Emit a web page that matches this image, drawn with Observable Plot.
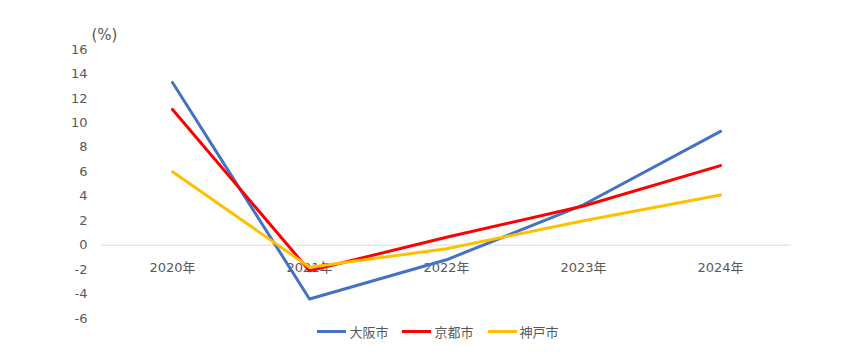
<!DOCTYPE html>
<html>
<head>
<meta charset="utf-8">
<script src="https://cdn.jsdelivr.net/npm/d3@7"></script>
<script src="https://cdn.jsdelivr.net/npm/@observablehq/plot@0.6"></script>
<style>
  body { margin: 0; background: #fff; font-family: "DejaVu Sans", "Noto Sans CJK JP", sans-serif; }
  #legend { display: flex; justify-content: center; align-items: center; height: 20px; margin-top: -9px; font-family: "Noto Sans CJK JP", sans-serif; font-size: 13px; color: #595959; padding-left: 14px; }
  .item { display: flex; align-items: center; margin: 0 7px; }
  .sw { width: 29px; height: 3px; margin-right: 3px; }
</style>
</head>
<body>
<div id="chart"></div>
<div id="legend"></div>
<script>
const years = ["2020年", "2021年", "2022年", "2023年", "2024年"];
const seriesNames = ["大阪市", "京都市", "神戸市"];
const osaka = [13.3, -4.4, -1.2, 3.3, 9.3];
const kyoto = [11.1, -2.1, 0.65, 3.2, 6.5];
const kobe = [6.0, -1.8, -0.3, 2.0, 4.1];
const yTicks = [-6, -4, -2, 0, 2, 4, 6, 8, 10, 12, 14, 16];
const colors = ["#4472C4", "#FF0000", "#FFC000"];

const seriesValues = [osaka, kyoto, kobe];
const rows = [];
seriesNames.forEach((s, i) => years.forEach((y, j) => rows.push({series: s, year: y, value: seriesValues[i][j]})));

const font = '"DejaVu Sans", "Noto Sans CJK JP", sans-serif';
const chart = Plot.plot({
  width: 862,
  height: 330,
  marginLeft: 101,
  marginRight: 72,
  marginTop: 49,
  marginBottom: 12,
  style: {fontFamily: font, fontSize: "13px", color: "#595959", background: "#fff", overflow: "visible"},
  x: {type: "point", domain: years, padding: 0.5, axis: null},
  y: {domain: [-6, 16]},
  color: {domain: seriesNames, range: colors},
  marks: [
    Plot.ruleY([0], {stroke: "#d9d9d9", strokeWidth: 1}),
    Plot.axisY({ticks: yTicks, tickSize: 0, tickPadding: 14, tickFormat: d => String(d), fontSize: 13, fill: "#595959", label: null}),
    Plot.text(years, {x: d => d, y: 0, dy: 23, fill: "#595959", fontSize: 13}),
    Plot.line(rows, {x: "year", y: "value", z: "series", stroke: "series", strokeWidth: 3, strokeLinejoin: "round", strokeLinecap: "round"}),
    Plot.text(["(%)"], {frameAnchor: "top-left", dx: -10, dy: -20, textAnchor: "start", fill: "#595959", fontSize: 15})
  ]
});
document.getElementById("chart").appendChild(chart);

const legend = document.getElementById("legend");
seriesNames.forEach((s, i) => {
  const it = document.createElement("div");
  it.className = "item";
  it.innerHTML = `<span class="sw" style="background:${colors[i]}"></span><span>${s}</span>`;
  legend.appendChild(it);
});
</script>
</body>
</html>
